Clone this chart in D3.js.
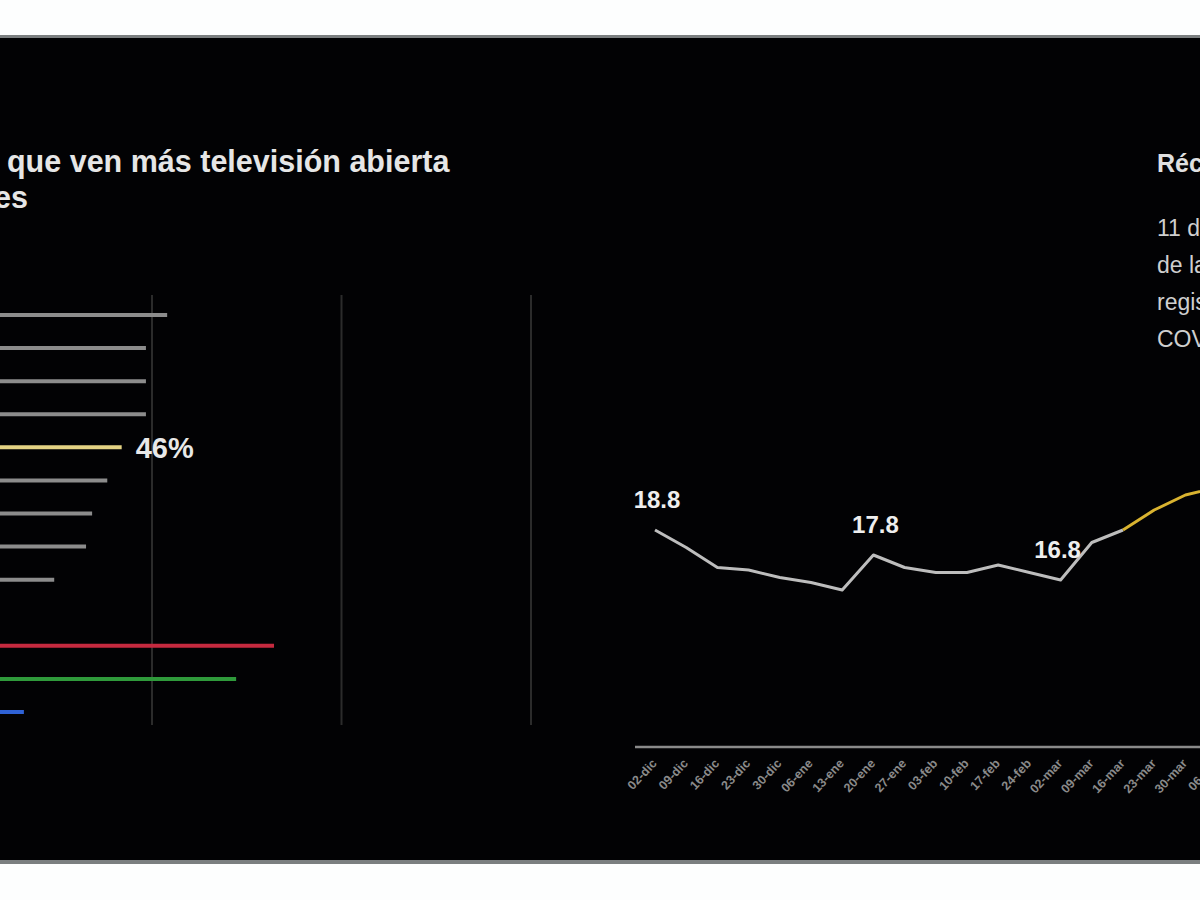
<!DOCTYPE html>
<html><head><meta charset="utf-8">
<script src="https://cdn.jsdelivr.net/npm/d3@7"></script>
<style>
html,body{margin:0;padding:0;background:#fff;}
svg{display:block;}
text{font-family:"Liberation Sans",Arial,sans-serif;}
</style></head>
<body>
<svg id="c" width="1200" height="900"></svg>
<script>
// ---------- data ----------
const barCategories = ["c1","c2","c3","c4","c5","c6","c7","c8","c9","gap","c10","c11","c12"];
const barValues     = [52.0, 49.2, 49.2, 49.2, 46, 44.1, 42.1, 41.3, 37.1, null, 66.1, 61.1, 33.1];
const barColors     = ["#8c8c8c","#8c8c8c","#8c8c8c","#8c8c8c","#e3d283","#8c8c8c","#8c8c8c","#8c8c8c","#8c8c8c",null,"#c52a3f","#2f9a3b","#2f62d6"];
const barGridTicks  = [25, 50, 75, 100];
const barLabel      = {index: 4, text: "46%"};

const lineDates  = ["02-dic","09-dic","16-dic","23-dic","30-dic","06-ene","13-ene","20-ene","27-ene","03-feb","10-feb","17-feb","24-feb","02-mar","09-mar","16-mar","23-mar","30-mar","06-abr"];
const lineValues = [18.8, 18.1, 17.3, 17.2, 16.9, 16.7, 16.4, 17.8, 17.3, 17.1, 17.1, 17.4, 17.1, 16.8, 18.3, 18.8, 19.6, 20.2, 20.5];
const highlightFrom = 15;
const lineLabels = [{i:0, t:"18.8"}, {i:7, t:"17.8"}, {i:13, t:"16.8"}];

const leftTitlePrefix = "Países ";
const leftTitle  = ["que ven más televisión abierta", "Porcentajes"];
const rightTitle = "Récord de audiencia";
const rightSub   = ["11 de marzo, día", "de la declaración", "registró el primer", "COVID-19"];

// ---------- drawing ----------
const svg = d3.select("#c");
svg.append("rect").attr("x",0).attr("y",0).attr("width",1200).attr("height",900).attr("fill","#fdfefe");
svg.append("rect").attr("x",0).attr("y",35).attr("width",1200).attr("height",829).attr("fill","#7b7f80");
svg.append("rect").attr("x",0).attr("y",38).attr("width",1200).attr("height",822).attr("fill","#020204");

svg.append("defs").append("clipPath").attr("id","titleClip")
  .append("rect").attr("x",6).attr("y",130).attr("width",600).attr("height",60);

// left title (its start is cropped off at the left edge, as in the reference)
const lt = svg.append("g").attr("fill","#e6e6e6").attr("font-weight","bold").attr("font-size",30.5);
const probe = lt.append("text").attr("x",0).attr("y",-100).text(leftTitlePrefix.replace(/ $/,"\u00a0"));
const prefixW = probe.node().getComputedTextLength();
probe.remove();
lt.append("text").attr("clip-path","url(#titleClip)")
  .attr("x", 7 - prefixW).attr("y",172).text(leftTitlePrefix + leftTitle[0]);
lt.append("text").attr("x",28).attr("y",208).attr("text-anchor","end").text(leftTitle[1]);

// bar chart
const xb = d3.scaleLinear().domain([0,100]).range([-227, 531]);
const yb = d3.scalePoint().domain(barCategories).range([315, 712]);
svg.append("g").selectAll("line").data(barGridTicks).join("line")
  .attr("x1", d=>xb(d)).attr("x2", d=>xb(d)).attr("y1",295).attr("y2",725)
  .attr("stroke","#2b2b2b").attr("stroke-width",2);
const bars = barCategories.map((c,i)=>({c, v:barValues[i], col:barColors[i]})).filter(d=>d.v!=null);
svg.append("g").selectAll("line").data(bars).join("line")
  .attr("x1", xb(0)).attr("x2", d=>xb(d.v))
  .attr("y1", d=>yb(d.c)).attr("y2", d=>yb(d.c))
  .attr("stroke", d=>d.col).attr("stroke-width",4);
svg.append("text").attr("x", xb(barValues[barLabel.index]) + 14)
  .attr("y", yb(barCategories[barLabel.index]) + 11)
  .attr("fill","#e8e8e8").attr("font-weight","bold").attr("font-size",29).text(barLabel.text);

// right title
svg.append("text").attr("x",1157).attr("y",172).attr("fill","#e0e0e0").attr("font-weight","bold")
  .attr("font-size",25).text(rightTitle);
svg.append("g").selectAll("text").data(rightSub).join("text")
  .attr("x",1157).attr("y",(d,i)=>236 + i*37).attr("fill","#cfcfcf").attr("font-size",23).text(d=>d);

// line chart
const xl = d3.scalePoint().domain(lineDates).range([655, 1216.6]);
const yl = d3.scaleLinear().domain([15, 22]).range([625, 450]);
const axis = d3.axisBottom(xl).tickSize(0).tickPadding(0);
const ag = svg.append("g").attr("transform","translate(0,747)").call(axis);
ag.select(".domain").attr("d","M635,0H1200").attr("stroke","#8a8a8a").attr("stroke-width",2.5);
ag.selectAll("text").attr("fill","#8a8a8a").attr("font-size",12.5).attr("font-weight","bold")
  .attr("text-anchor","end").attr("dy",0)
  .attr("transform","translate(2,17) rotate(-47)");
const pts = lineValues.map((v,i)=>({d:lineDates[i], v, i}));
const line = d3.line().x(d=>xl(d.d)).y(d=>yl(d.v));
svg.append("path").datum(pts.filter(d=>d.i<=highlightFrom)).attr("d",line)
  .attr("fill","none").attr("stroke","#bdbdbd").attr("stroke-width",3).attr("stroke-linejoin","round");
svg.append("path").datum(pts.filter(d=>d.i>=highlightFrom)).attr("d",line)
  .attr("fill","none").attr("stroke","#d9b330").attr("stroke-width",3).attr("stroke-linejoin","round");
svg.append("g").selectAll("text").data(lineLabels).join("text")
  .attr("x", d=>xl(lineDates[d.i]) + (d.i===13 ? -3 : 2))
  .attr("y", d=>yl(lineValues[d.i]) - 22)
  .attr("text-anchor","middle").attr("fill","#eeeeee").attr("font-weight","bold").attr("font-size",24)
  .text(d=>d.t);
</script>
</body></html>
